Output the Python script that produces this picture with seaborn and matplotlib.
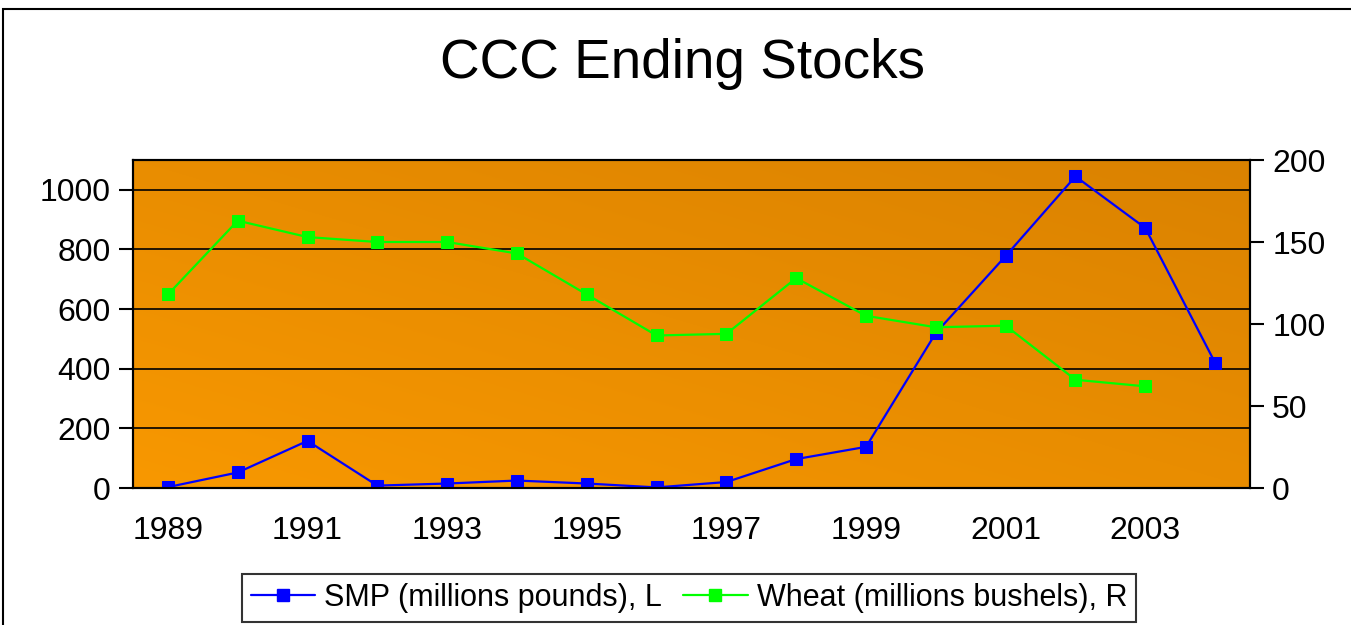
import seaborn as sns
import pandas as pd
import numpy as np
import matplotlib.pyplot as plt
from matplotlib.patches import Rectangle
from matplotlib.lines import Line2D

anos = list(range(1989, 2005))
smp = [3, 52, 158, 8, 15, 25, 15, 2, 20, 97, 138, 520, 778, 1045, 872, 420]
trigo = [118, 163, 153, 150, 150, 143, 118, 93, 94, 128, 105, 98, 99, 66, 62, np.nan]
rotulos_x = [str(a) for a in range(1989, 2005, 2)]

df = pd.DataFrame({"Ano": anos, "SMP": smp, "Wheat": trigo})

sns.set_style("white")
plt.rcParams['font.family'] = ['Liberation Sans', 'DejaVu Sans']
plt.rcParams['text.color'] = 'black'
plt.rcParams['xtick.color'] = 'black'
plt.rcParams['ytick.color'] = 'black'

fig = plt.figure(figsize=(13.51, 6.25), dpi=100)
ax = fig.add_axes([133/1351, 1 - 488/625, (1250-133)/1351, (488-160)/625])

# fundo laranja em degrade
grad = np.linspace(0, 1, 256)
gx, gy = np.meshgrid(grad, grad)
t = (gx + gy) / 2
c1 = np.array([248, 152, 0]) / 255
c2 = np.array([218, 130, 0]) / 255
img = c1[None, None, :] * (1 - t[..., None]) + c2[None, None, :] * t[..., None]
ax.imshow(img, extent=[0, 1, 0, 1], transform=ax.transAxes, origin="lower",
          aspect="auto", zorder=0)

sns.lineplot(data=df, x="Ano", y="SMP", ax=ax, color="#0000FF", marker="s",
             markersize=8.5, markeredgecolor="#0000FF", linewidth=1.6, zorder=3)
ax.set_xlim(1988.5, 2004.5)
ax.set_ylim(0, 1100)
ax.set_yticks(range(0, 1001, 200))
ax.yaxis.grid(True, color="black", linewidth=1.2)
ax.set_axisbelow(False)
ax.set_xticks(range(1989, 2005, 2))
ax.set_xticklabels(rotulos_x)
ax.set_xticks(np.arange(1988.5, 2005, 1), minor=True)
ax.tick_params(axis="x", which="major", length=0, pad=20, labelsize=23)
ax.tick_params(axis="x", which="minor", length=10, width=1.5, color="black", direction="out")
ax.tick_params(axis="y", length=10, width=1.5, color="black", direction="out", labelsize=23, pad=6)
ax.set_xlabel("")
ax.set_ylabel("")
for s in ax.spines.values():
    s.set_color("black")
    s.set_linewidth(1.5)

ax2 = ax.twinx()
sns.lineplot(data=df, x="Ano", y="Wheat", ax=ax2, color="#00FF00", marker="s",
             markersize=8.5, markeredgecolor="#00FF00", linewidth=1.6, zorder=3)
ax2.set_ylim(0, 200)
ax2.set_yticks(range(0, 201, 50))
ax2.tick_params(axis="y", length=10, width=1.5, color="black", direction="out", labelsize=23, pad=6)
ax2.set_ylabel("")
ax2.grid(False)
for s in ax2.spines.values():
    s.set_color("black")
    s.set_linewidth(1.5)

fig.text(682/1351, 1 - 64/625, "CCC Ending Stocks", ha="center", va="center", fontsize=39.5)

handles = [Line2D([], [], color="#0000FF", marker="s", markersize=8, linewidth=1.6),
           Line2D([], [], color="#00FF00", marker="s", markersize=8, linewidth=1.6)]
leg = fig.legend(handles, ["SMP (millions pounds), L", "Wheat (millions bushels), R"],
                 loc="center", bbox_to_anchor=(689/1351, 1 - 598/625), ncol=2,
                 fontsize=22, frameon=True, fancybox=False, handlelength=2.1,
                 handletextpad=0.3, columnspacing=0.7, borderpad=0.3)
leg.get_frame().set_edgecolor("black")
leg.get_frame().set_linewidth(1.5)

fig.patches.append(Rectangle((3/1351, -0.05), 1.1, 1 - 9/625 + 0.05,
                             transform=fig.transFigure, fill=False,
                             edgecolor="black", linewidth=1.5))

plt.savefig("out.png", dpi=100)
